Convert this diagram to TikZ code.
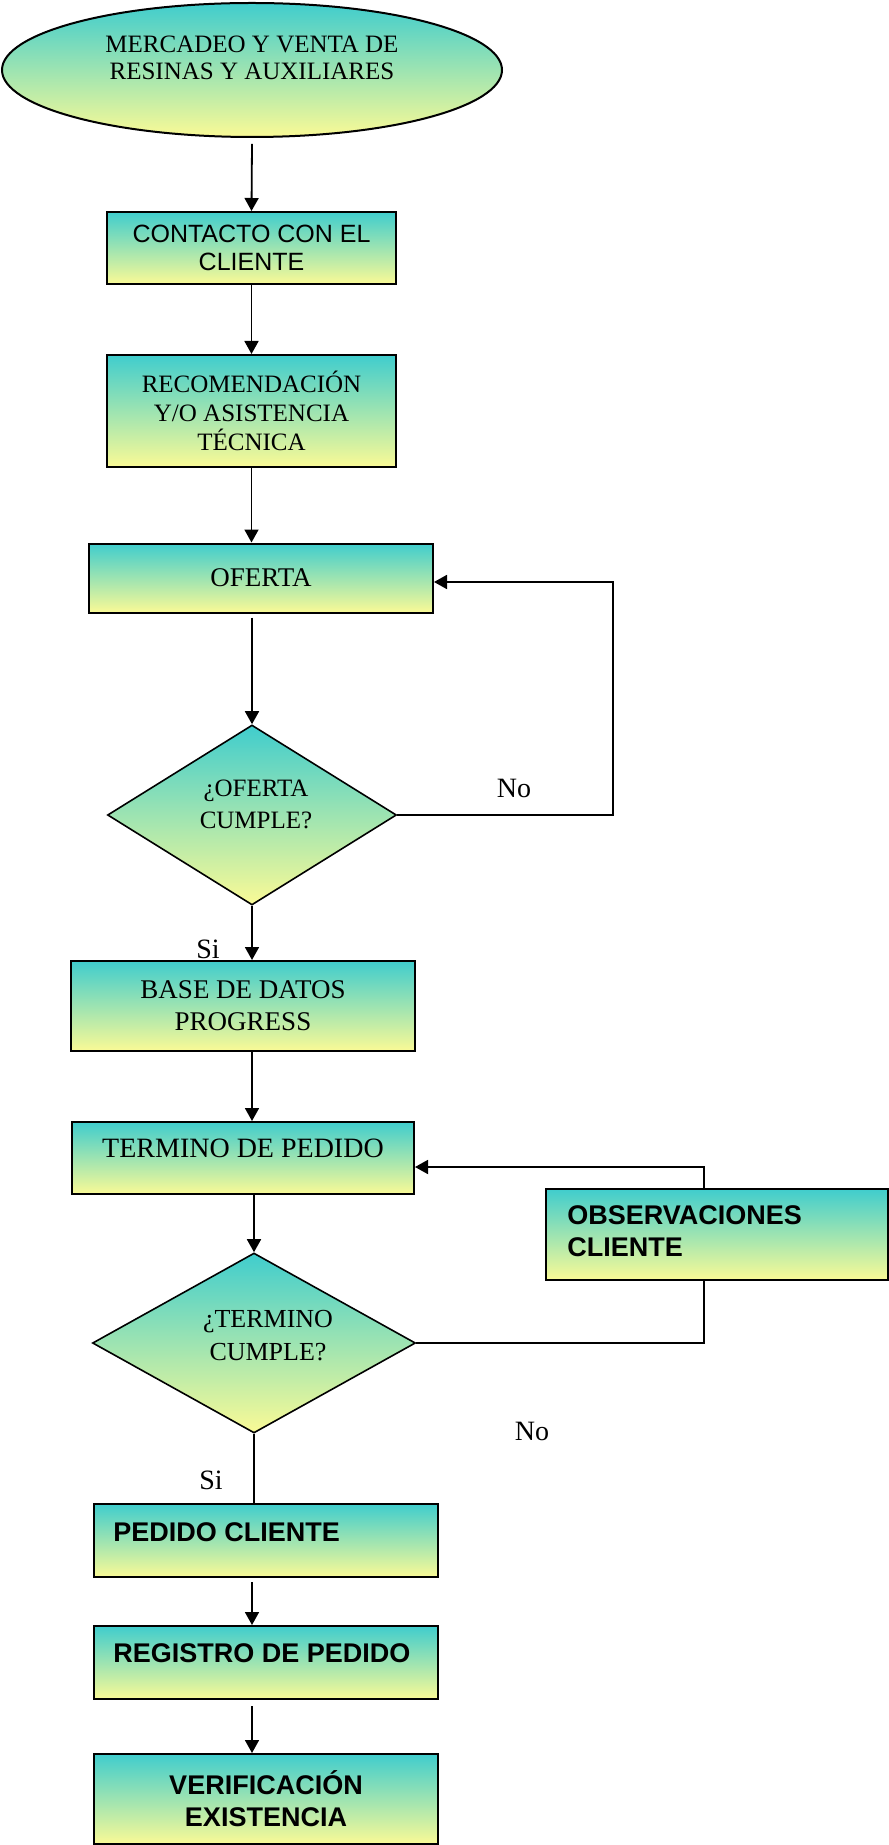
\documentclass[tikz,border=0pt]{standalone}
\usepackage{fontspec}
\setmainfont{Liberation Serif}
\setsansfont{Liberation Sans}
\usetikzlibrary{shapes.geometric}
\usetikzlibrary{arrows.meta}

\definecolor{celeste}{RGB}{64,205,205}
\definecolor{amarillo}{RGB}{250,250,150}

\tikzset{
	shadedfill/.style={draw=black, line width=1pt, top color=celeste, bottom color=amarillo},
	flowbox/.style={shadedfill, rectangle, inner sep=0pt},
	decision/.style={shadedfill, diamond, inner sep=0pt, line width=0.8pt},
	startnode/.style={shadedfill, ellipse, inner sep=0pt},
	seriftext/.style={font=\fontsize{12.5}{14.5}\selectfont, align=center},
	sanstext/.style={font=\sffamily\fontsize{12.5}{14}\selectfont, align=center},
	boldtext/.style={font=\sffamily\bfseries\fontsize{13.5}{16}\selectfont, align=left, inner sep=0pt},
	answer/.style={font=\fontsize{14}{16}\selectfont},
	flowline/.style={line width=0.9pt},
	flowarrow/.style={line width=0.9pt, -{Triangle[length=6.5pt,width=7pt]}}
}

\begin{document}
\begin{tikzpicture}[x=0.5pt, y=-0.5pt]
\useasboundingbox (0,0) rectangle (888,1845);

% upper part
\node[startnode, minimum width=250pt, minimum height=67pt] (mercadeo) at (252,70) {};
\node[seriftext, font=\fontsize{12.5}{13.7}\selectfont] (mercadeotxt) at (252,58) {MERCADEO Y VENTA DE\\RESINAS Y AUXILIARES};

\node[flowbox, sanstext, minimum width=144.5pt, minimum height=36pt] (contacto) at (251.5,248) {CONTACTO CON EL\\CLIENTE};
\node[flowbox, seriftext, minimum width=144.5pt, minimum height=56pt] (recomendacion) at (251.5,411) {RECOMENDACIÓN\\Y/O ASISTENCIA\\TÉCNICA};
\node[flowbox, seriftext, font=\fontsize{13.5}{16}\selectfont, minimum width=172pt, minimum height=34.5pt] (oferta) at (261,578) {OFERTA};
\node[decision, minimum width=144.5pt, minimum height=90pt] (cumpleoferta) at (252,815) {};
\node[seriftext, font=\fontsize{12.5}{16}\selectfont] (cumpleofertatxt) at (256,804) {¿OFERTA\\CUMPLE?};
\node[flowbox, seriftext, font=\fontsize{13.5}{16}\selectfont, minimum width=172pt, minimum height=45pt] (basedatos) at (243,1006) {BASE DE DATOS\\PROGRESS};

% lower part
\node[flowbox, minimum width=171pt, minimum height=36pt] (termino) at (243,1158) {};
\node[seriftext, font=\fontsize{14}{16}\selectfont] (terminotxt) at (243,1148) {TERMINO DE PEDIDO};
\node[flowbox, minimum width=171pt, minimum height=45.5pt] (observaciones) at (717,1234.5) {};
\node[boldtext, anchor=west] (observacionestxt) at (567,1231) {OBSERVACIONES\\CLIENTE};
\node[decision, minimum width=161.5pt, minimum height=90pt] (cumpletermino) at (254,1343) {};
\node[seriftext, font=\fontsize{13}{16.5}\selectfont] (cumpleterminotxt) at (268,1336) {¿TERMINO\\CUMPLE?};
\node[flowbox, minimum width=172pt, minimum height=36.5pt] (pedido) at (266,1540.5) {};
\node[boldtext, anchor=west] (pedidotxt) at (113,1532) {PEDIDO CLIENTE};
\node[flowbox, minimum width=172pt, minimum height=36.5pt] (registro) at (266,1662.5) {};
\node[boldtext, anchor=west] (registrotxt) at (113,1653) {REGISTRO DE PEDIDO};
\node[flowbox, boldtext, align=center, minimum width=172pt, minimum height=45pt] (verificacion) at (266,1799) {VERIFICACIÓN\\EXISTENCIA};

% answers
\node[answer] (nooferta) at (514,788) {No};
\node[answer] (sioferta) at (208,949) {Si};
\node[answer] (notermino) at (532,1431) {No};
\node[answer] (sitermino) at (211,1480) {Si};

\coordinate (vueltaoferta) at (613,582);
\coordinate (obsbajo) at (704,1280);
\coordinate (obsalto) at (704,1189);
\coordinate (vueltatermino) at (704,1167);

% connectors
\draw[flowarrow] ([yshift=-3pt]mercadeo.south) -- (contacto.north);
\draw[flowarrow] (contacto.south) -- (recomendacion.north);
\draw[flowarrow] (recomendacion.south) -- (recomendacion.south |- oferta.north);
\draw[flowarrow] ([yshift=-2pt]cumpleoferta.north |- oferta.south) -- (cumpleoferta.north);
\draw[flowarrow] (cumpleoferta.east) -| (vueltaoferta) -- (vueltaoferta -| oferta.east);
\draw[flowarrow] (cumpleoferta.south) -- (cumpleoferta.south |- basedatos.north);
\draw[flowarrow] (basedatos.south -| cumpleoferta.south) -- (termino.north -| cumpleoferta.south);
\draw[flowarrow] (cumpletermino.north |- termino.south) -- (cumpletermino.north);
\draw[flowline] (cumpletermino.east) -| (obsbajo);
\draw[flowarrow] (obsalto) -- (vueltatermino) -- (vueltatermino -| termino.east);
\draw[flowline] (cumpletermino.south) -- (cumpletermino.south |- pedido.north);
\draw[flowarrow] ([xshift=-7pt,yshift=-2pt]pedido.south) -- ([xshift=-7pt]registro.north);
\draw[flowarrow] ([xshift=-7pt,yshift=-3pt]registro.south) -- ([xshift=-7pt]verificacion.north);
\end{tikzpicture}
\end{document}
